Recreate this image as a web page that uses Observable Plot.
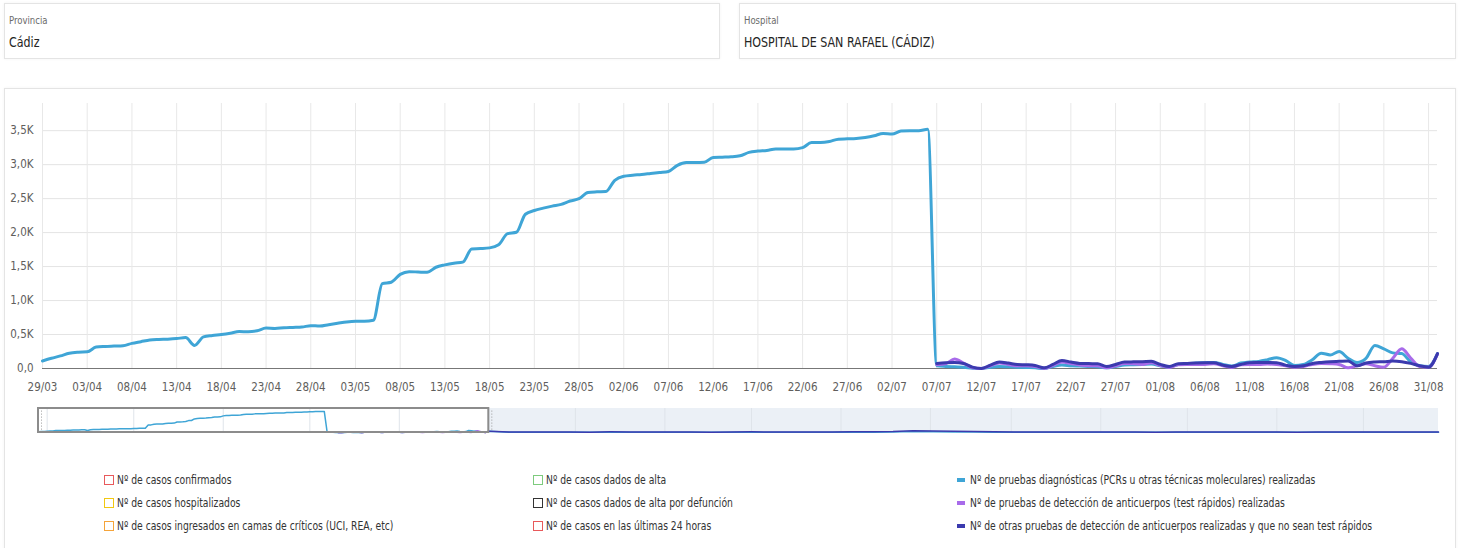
<!DOCTYPE html>
<html><head><meta charset="utf-8">
<script src="https://cdn.jsdelivr.net/npm/d3@7"></script>
<script src="https://cdn.jsdelivr.net/npm/@observablehq/plot@0.6"></script>
<style>
body{margin:0;background:#fff;font-family:"DejaVu Sans Condensed","DejaVu Sans",sans-serif;width:1462px;height:548px;overflow:hidden;position:relative}
.card{position:absolute;background:#fff;border:1px solid #e4e4e4;box-shadow:0 0 3px rgba(0,0,0,0.05);box-sizing:border-box}
.lbl{position:absolute;left:4px;top:10px;font-size:11px;color:#6b6b6b;transform:scaleX(0.86);transform-origin:0 50%;white-space:nowrap}
.val{position:absolute;left:4px;top:30px;font-size:14.5px;color:#252423;transform:scaleX(0.85);transform-origin:0 50%;white-space:nowrap}
#main{position:absolute;left:0;top:88px}
#nav{position:absolute;left:0;top:404px}
.item{position:absolute;white-space:nowrap;height:14px;line-height:14px;font-size:12.5px;color:#333}
.txt{display:inline-block;transform:scaleX(0.82);transform-origin:0 50%}
.sq{position:absolute;left:-13px;top:2px;width:10px;height:10px;border:1.3px solid;box-sizing:border-box}
.dash{position:absolute;left:-13px;top:5px;width:8px;height:3.5px}
</style></head><body>
<div class="card" style="left:4px;top:3px;width:716px;height:56px"><div class="lbl" id="lblProv"></div><div class="val" id="valProv"></div></div>
<div class="card" style="left:739px;top:3px;width:717px;height:56px"><div class="lbl" id="lblHosp"></div><div class="val" id="valHosp"></div></div>
<div class="card" style="left:4px;top:88px;width:1452px;height:480px"></div>
<div id="main"></div>
<div id="nav"></div>
<div id="legend"></div>
<script>
// ---- filters ----
const filterLabels = ["Provincia", "Hospital"];
const filterValues = ["Cádiz", "HOSPITAL DE SAN RAFAEL (CÁDIZ)"];

// ---- data ----
const startDate = "2020-03-29";
// Nº de pruebas diagnósticas (PCRs ...) — daily from 29/03 to 01/09
const pcrValues = [
  110,150,185,225,240, 245,315,325,330,335, 370,395,420,428,432, 440,455,340,465,485,
  500,520,545,540,555, 595,590,600,605,610, 630,625,645,665,685, 695,695,710,1250,1270,
  1385,1425,1420,1415,1490, 1525,1550,1565,1760,1765, 1775,1820,1985,2005,2270, 2325,2360,2390,2415,2465,
  2500,2590,2600,2605,2770, 2830,2845,2855,2870,2885, 2900,2990,3030,3030,3035, 3105,3110,3115,3130,3180,
  3200,3210,3230,3230,3230, 3250,3325,3325,3340,3375, 3380,3385,3400,3425,3460, 3450,3495,3500,3500,3520,
  40,30,25,20,5, 0,20,30,25,20, 15,10,0,30,50, 40,35,30,25,10,
  30,50,55,60,65, 40,20,60,70,80, 85,90,60,35,80, 95,105,130,160,120,
  44,60,130,225,200, 250,150,88,150,338, 289,230,220,100,40, 30,220
];
// series starting 07/07
const seriesStart2 = "2020-07-07";
const rapidValues = [
  55,70,140,80,10, 0,40,80,60,40, 40,30,0,45,95, 75,50,40,40,10,
  40,75,70,60,85, 45,15,55,60,60, 60,70,40,15,55, 60,60,65,60,40,
  20,30,60,75,70, 60,10,40,70,40, 20,150,289,155,30, 20,210
];
const otherValues = [
  75,85,88,75,20, 0,50,95,80,60, 55,45,10,60,118, 95,75,72,70,30,
  60,95,98,100,105, 60,30,70,75,80, 83,83,50,30,60, 85,88,90,85,50,
  29,40,75,90,100, 105,110,40,80,95, 100,110,100,75,40, 20,220
];
// navigator only: weekly values after 01/09 (from 08/09/2020)
const navExtStart = "2020-09-08";
const navOtherExt = [90,70,100,80,60,110,90,70,80,100,60,90,120,80,70,100,90,110,130,150,300,250,200,180,120,100,90,80,70,90,100,80,60,90,70,80,100,90,70,60,80,90,70,80,100,90,80];
const navPcrExt   = [40,30,50,40,30,60,40,30,40,50,30,40,60,40,30,50,40,50,60,70,150,120,100,90,60,50,40,40,30,40,50,40,30,40,30,40,50,40,30,30,40,40,30,40,50,40,40];

const xTickLabels = ["29/03","03/04","08/04","13/04","18/04","23/04","28/04","03/05","08/05","13/05","18/05","23/05","28/05","02/06","07/06","12/06","17/06","22/06","27/06","02/07","07/07","12/07","17/07","22/07","27/07","01/08","06/08","11/08","16/08","21/08","26/08","31/08"];
const yTicks = [0,500,1000,1500,2000,2500,3000,3500];

const legendItems = [
  {label:"Nº de casos confirmados", color:"#E8595B", kind:"sq", col:0, row:0},
  {label:"Nº de casos hospitalizados", color:"#F2C811", kind:"sq", col:0, row:1},
  {label:"Nº de casos ingresados en camas de críticos (UCI, REA, etc)", color:"#F5A43A", kind:"sq", col:0, row:2},
  {label:"Nº de casos dados de alta", color:"#7DCB7D", kind:"sq", col:1, row:0},
  {label:"Nº de casos dados de alta por defunción", color:"#333333", kind:"sq", col:1, row:1},
  {label:"Nº de casos en las últimas 24 horas", color:"#E8595B", kind:"sq", col:1, row:2},
  {label:"Nº de pruebas diagnósticas (PCRs u otras técnicas moleculares) realizadas", color:"#3FA5D6", kind:"dash", col:2, row:0},
  {label:"Nº de pruebas de detección de anticuerpos (test rápidos) realizadas", color:"#A86BEA", kind:"dash", col:2, row:1},
  {label:"Nº de otras pruebas de detección de anticuerpos realizadas y que no sean test rápidos", color:"#3B3AAE", kind:"dash", col:2, row:2}
];

const C_PCR = "#3FA5D6", C_RAPID = "#A86BEA", C_OTHER = "#3B3AAE";

// ---- build ----
document.getElementById("lblProv").textContent = filterLabels[0];
document.getElementById("valProv").textContent = filterValues[0];
document.getElementById("lblHosp").textContent = filterLabels[1];
document.getElementById("valHosp").textContent = filterValues[1];

const d0 = new Date(startDate + "T00:00:00Z");
const d2 = new Date(seriesStart2 + "T00:00:00Z");
const dE = new Date(navExtStart + "T00:00:00Z");
const pcr = pcrValues.map((v,i)=>({date:d3.utcDay.offset(d0,i), value:v}));
const rapid = rapidValues.map((v,i)=>({date:d3.utcDay.offset(d2,i), value:v}));
const other = otherValues.map((v,i)=>({date:d3.utcDay.offset(d2,i), value:v}));
const pcrNav = pcr.concat(navPcrExt.map((v,i)=>({date:d3.utcDay.offset(dE,7*i), value:v})));
const otherNav = other.concat(navOtherExt.map((v,i)=>({date:d3.utcDay.offset(dE,7*i), value:v})));

const parseTick = s => new Date(Date.UTC(2020, +s.slice(3,5)-1, +s.slice(0,2)));
const xTicks = xTickLabels.map(parseTick);
const fmtX = d3.utcFormat("%d/%m");
const fmtY = v => (v/1000).toFixed(1).replace(".", ",") + (v===0 ? "" : "K");

const xEnd = pcr[pcr.length-1].date;
const FONT = '"DejaVu Sans Condensed","DejaVu Sans",sans-serif';

const main = Plot.plot({
  width: 1462, height: 320,
  marginLeft: 42, marginRight: 25, marginTop: 15, marginBottom: 40,
  style: {fontFamily: FONT, fontSize: "11.5px", color: "#605E5C", background: "transparent", overflow: "visible"},
  x: {type: "utc", domain: [d0, xEnd]},
  y: {domain: [0, 3900]},
  marks: [
    Plot.gridY(yTicks, {stroke: "#e4e4e4", strokeOpacity: 1}),
    Plot.gridX(xTicks, {stroke: "#e8e8e8", strokeOpacity: 1}),
    Plot.ruleY([0], {stroke: "#777"}),
    Plot.axisY(yTicks, {tickSize: 0, tickPadding: 9, tickFormat: fmtY, label: null, fill: "#605E5C"}),
    Plot.axisX(xTicks, {tickSize: 0, tickPadding: 14, tickFormat: fmtX, label: null, fill: "#605E5C"}),
    Plot.line(pcr, {x: "date", y: "value", stroke: C_PCR, strokeWidth: 3, curve: "monotone-x"}),
    Plot.line(rapid, {x: "date", y: "value", stroke: C_RAPID, strokeWidth: 3, curve: "monotone-x"}),
    Plot.line(other, {x: "date", y: "value", stroke: C_OTHER, strokeWidth: 3, curve: "monotone-x"})
  ]
});
document.getElementById("main").appendChild(main);

// navigator
const navEnd = d3.utcDay.offset(d0, 485);
const nav = Plot.plot({
  width: 1462, height: 32,
  marginLeft: 38, marginRight: 24, marginTop: 4, marginBottom: 4,
  style: {fontFamily: FONT, background: "transparent", overflow: "visible"},
  x: {type: "utc", domain: [d0, navEnd], axis: null},
  y: {domain: [0, 4000], axis: null},
  marks: [
    Plot.rect([{a: xEnd, b: navEnd}], {x1: "a", x2: "b", y1: 0, y2: 4000, fill: "#ebf0f6"}),
    Plot.ruleX(d3.utcMonth.range(d3.utcMonth.ceil(d0), navEnd), {stroke: "#dfe4ea", strokeWidth: 1}),
    Plot.line(pcrNav, {x: "date", y: "value", stroke: C_PCR, strokeWidth: 1.5}),
    Plot.line(rapid, {x: "date", y: "value", stroke: C_RAPID, strokeWidth: 1.5}),
    Plot.line(otherNav, {x: "date", y: "value", stroke: C_OTHER, strokeWidth: 1.5}),
    Plot.rect([{a: d0, b: xEnd}], {x1: "a", x2: "b", y1: 0, y2: 4000, fill: "none", stroke: "#8c8c8c", strokeWidth: 2}),
    Plot.ruleX([d0, xEnd], {y1: 400, y2: 3600, stroke: "#9a9a9a", strokeDasharray: "1,2", dx: 3})
  ]
});
document.getElementById("nav").appendChild(nav);

// legend
const colX = [117, 546, 970];
const rowY = [473, 496, 519];
const leg = document.getElementById("legend");
legendItems.forEach(it => {
  const el = document.createElement("div");
  el.className = "item";
  el.style.left = colX[it.col] + "px";
  el.style.top = rowY[it.row] + "px";
  const mk = document.createElement("span");
  mk.className = it.kind;
  if (it.kind === "sq") mk.style.borderColor = it.color; else mk.style.background = it.color;
  el.appendChild(mk);
  const tx = document.createElement("span");
  tx.className = "txt";
  tx.textContent = it.label;
  el.appendChild(tx);
  leg.appendChild(el);
});
</script>
</body></html>
